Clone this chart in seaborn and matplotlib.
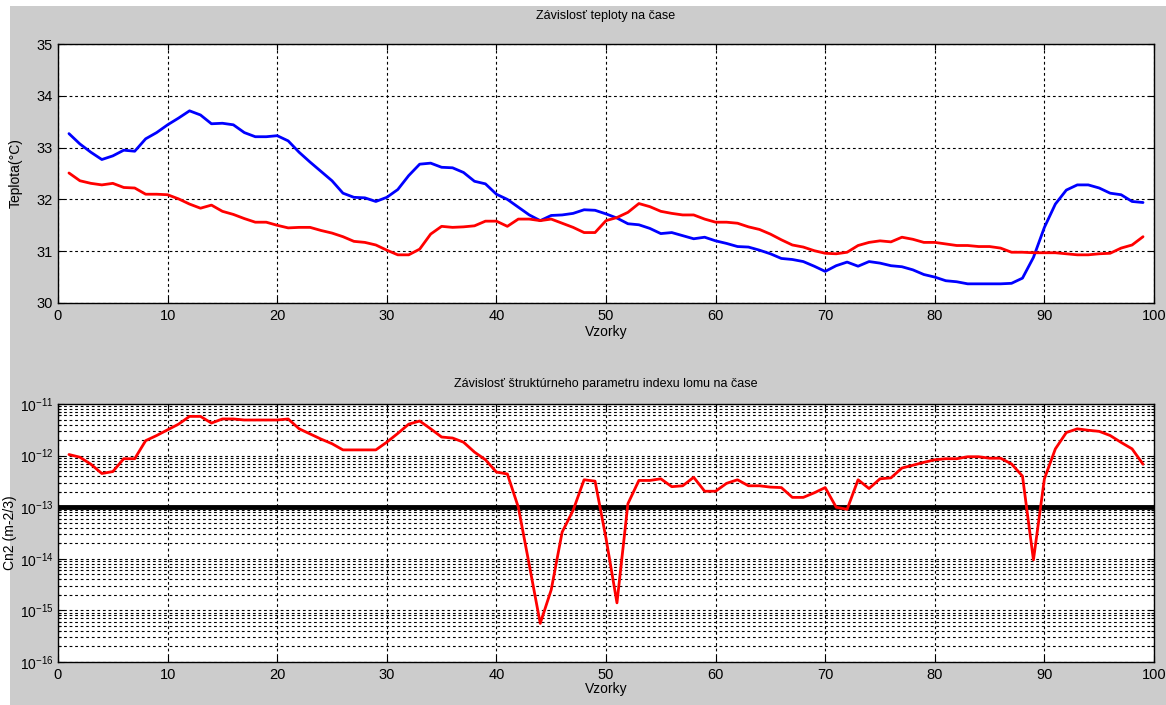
import numpy as np
import pandas as pd
import seaborn as sns
import matplotlib.pyplot as plt
from matplotlib.patches import Rectangle
from matplotlib.ticker import LogLocator, NullFormatter

samples = list(range(1, 100))

temp_blue = [33.27, 33.07, 32.91, 32.77, 32.84, 32.95, 32.93, 33.17, 33.29, 33.44,
             33.57, 33.71, 33.63, 33.46, 33.47, 33.44, 33.29, 33.21, 33.21, 33.23,
             33.13, 32.91, 32.72, 32.54, 32.36, 32.12, 32.04, 32.03, 31.96, 32.04,
             32.19, 32.46, 32.68, 32.70, 32.62, 32.61, 32.52, 32.35, 32.30, 32.10,
             32.00, 31.85, 31.70, 31.59, 31.69, 31.70, 31.73, 31.80, 31.79, 31.72,
             31.64, 31.53, 31.51, 31.44, 31.34, 31.36, 31.30, 31.24, 31.27, 31.20,
             31.15, 31.09, 31.08, 31.02, 30.95, 30.86, 30.84, 30.80, 30.71, 30.61,
             30.72, 30.79, 30.71, 30.80, 30.77, 30.72, 30.70, 30.64, 30.55, 30.50,
             30.43, 30.41, 30.37, 30.37, 30.37, 30.37, 30.38, 30.48, 30.88, 31.46,
             31.91, 32.18, 32.28, 32.28, 32.22, 32.12, 32.09, 31.96, 31.94]

temp_red = [32.51, 32.36, 32.31, 32.28, 32.31, 32.23, 32.22, 32.10, 32.10, 32.09,
            32.01, 31.91, 31.83, 31.89, 31.77, 31.71, 31.63, 31.56, 31.56, 31.50,
            31.45, 31.46, 31.46, 31.40, 31.35, 31.28, 31.19, 31.17, 31.12, 31.02,
            30.93, 30.93, 31.04, 31.33, 31.48, 31.46, 31.47, 31.49, 31.58, 31.58,
            31.48, 31.62, 31.62, 31.59, 31.62, 31.54, 31.46, 31.36, 31.36, 31.59,
            31.65, 31.75, 31.92, 31.86, 31.77, 31.73, 31.70, 31.70, 31.62, 31.56,
            31.56, 31.54, 31.47, 31.42, 31.33, 31.22, 31.12, 31.08, 31.01, 30.96,
            30.95, 30.98, 31.11, 31.17, 31.20, 31.18, 31.27, 31.23, 31.17, 31.17,
            31.14, 31.11, 31.11, 31.09, 31.09, 31.06, 30.98, 30.98, 30.97, 30.97,
            30.97, 30.95, 30.93, 30.93, 30.95, 30.96, 31.06, 31.12, 31.28]

cn2 = [1.05e-12, 9.3e-13, 6.8e-13, 4.5e-13, 4.9e-13, 8.7e-13, 8.7e-13, 1.95e-12, 2.45e-12, 3.16e-12,
       4.07e-12, 5.75e-12, 5.75e-12, 4.27e-12, 5.13e-12, 5.13e-12, 4.9e-12, 4.9e-12, 4.9e-12, 4.9e-12,
       5.13e-12, 3.31e-12, 2.63e-12, 2.09e-12, 1.70e-12, 1.29e-12, 1.29e-12, 1.29e-12, 1.29e-12, 1.82e-12,
       2.69e-12, 4.07e-12, 4.68e-12, 3.31e-12, 2.29e-12, 2.19e-12, 1.82e-12, 1.17e-12, 8.3e-13, 4.8e-13,
       4.4e-13, 1.0e-13, 7.6e-15, 5.6e-16, 2.5e-15, 3.3e-14, 8.7e-14, 3.4e-13, 3.2e-13, 2.5e-14,
       1.4e-15, 1.17e-13, 3.3e-13, 3.3e-13, 3.55e-13, 2.5e-13, 2.6e-13, 3.8e-13, 2.04e-13, 2.04e-13,
       2.9e-13, 3.4e-13, 2.6e-13, 2.6e-13, 2.45e-13, 2.4e-13, 1.55e-13, 1.55e-13, 1.9e-13, 2.4e-13,
       1.0e-13, 9.1e-14, 3.4e-13, 2.3e-13, 3.55e-13, 3.7e-13, 5.75e-13, 6.5e-13, 7.4e-13, 8.3e-13,
       8.7e-13, 8.7e-13, 9.5e-13, 9.5e-13, 8.9e-13, 8.9e-13, 6.9e-13, 4.0e-13, 9.5e-15, 3.55e-13,
       1.35e-12, 2.8e-12, 3.3e-12, 3.1e-12, 2.95e-12, 2.45e-12, 1.8e-12, 1.35e-12, 6.8e-13]

threshold = 1e-13

title_top = "Závislosť teploty na čase"
title_bottom = "Závislosť štruktúrneho parametru indexu lomu na čase"
xlabel = "Vzorky"
ylabel_top = "Teplota(°C)"
ylabel_bottom = "Cn2 (m-2/3)"

df = pd.DataFrame({"sample": samples, "blue": temp_blue, "red": temp_red, "cn2": cn2})

sns.set_style("ticks")
plt.rcParams['font.family'] = ['Liberation Sans', 'DejaVu Sans']
plt.rcParams['axes.linewidth'] = 1.0
plt.rcParams['text.color'] = 'black'
plt.rcParams['axes.labelcolor'] = 'black'

fig = plt.figure(figsize=(11.66, 7.05), dpi=100)
fig.patch.set_facecolor("white")
# grey window area, leaving a thin white strip at top and left
bg = Rectangle((10 / 1166, 0), 1, 1 - 6 / 705, transform=fig.transFigure,
               facecolor="#cccccc", edgecolor="none", zorder=-10)
fig.add_artist(bg)

ax1 = fig.add_axes([58 / 1166, 1 - 303 / 705, 1096 / 1166, 259 / 705])
ax2 = fig.add_axes([58 / 1166, 1 - 662 / 705, 1096 / 1166, 258 / 705])

grid_kw = dict(color="black", linestyle=(0, (2.5, 2.5)), linewidth=0.8)

# top: temperatures
sns.lineplot(data=df, x="sample", y="blue", color="blue", linewidth=2, ax=ax1, zorder=3)
sns.lineplot(data=df, x="sample", y="red", color="red", linewidth=2, ax=ax1, zorder=3)
ax1.set_xlim(0, 100)
ax1.set_ylim(30, 35)
ax1.set_xticks(range(0, 101, 10))
ax1.set_yticks(range(30, 36))
ax1.grid(True, which="major", **grid_kw)
ax1.set_title(title_top, fontsize=9, pad=18)
ax1.set_xlabel(xlabel, fontsize=10, labelpad=2)
ax1.set_ylabel(ylabel_top, fontsize=10)
ax1.yaxis.set_label_coords(-0.032, 0.5)

# bottom: Cn2 on log scale
sns.lineplot(data=df, x="sample", y="cn2", color="red", linewidth=2, ax=ax2, zorder=3)
ax2.axhline(threshold, color="black", linewidth=3.5, zorder=2)
ax2.set_yscale("log")
ax2.set_xlim(0, 100)
ax2.set_ylim(1e-16, 1e-11)
ax2.set_xticks(range(0, 101, 10))
ax2.yaxis.set_major_locator(LogLocator(base=10, numticks=10))
ax2.yaxis.set_minor_locator(LogLocator(base=10, subs=np.arange(2, 10), numticks=20))
ax2.yaxis.set_minor_formatter(NullFormatter())
ax2.grid(True, which="major", **grid_kw)
ax2.grid(True, which="minor", axis="y", **grid_kw)
ax2.set_title(title_bottom, fontsize=9, pad=12)
ax2.set_xlabel(xlabel, fontsize=10, labelpad=0)
ax2.set_ylabel(ylabel_bottom, fontsize=10)
ax2.yaxis.set_label_coords(-0.037, 0.5)

for ax in (ax1, ax2):
    ax.set_facecolor("white")
    ax.tick_params(which="both", direction="in", top=True, right=True, labelsize=10.5,
                   length=4, width=0.8, pad=4, colors="black")
    ax.tick_params(which="minor", length=2)
    for s in ax.spines.values():
        s.set_visible(True)
        s.set_color("black")

ax2.tick_params(axis="y", which="major", labelsize=10, pad=3)

fig.savefig("out.png", dpi=100, facecolor=fig.get_facecolor())
